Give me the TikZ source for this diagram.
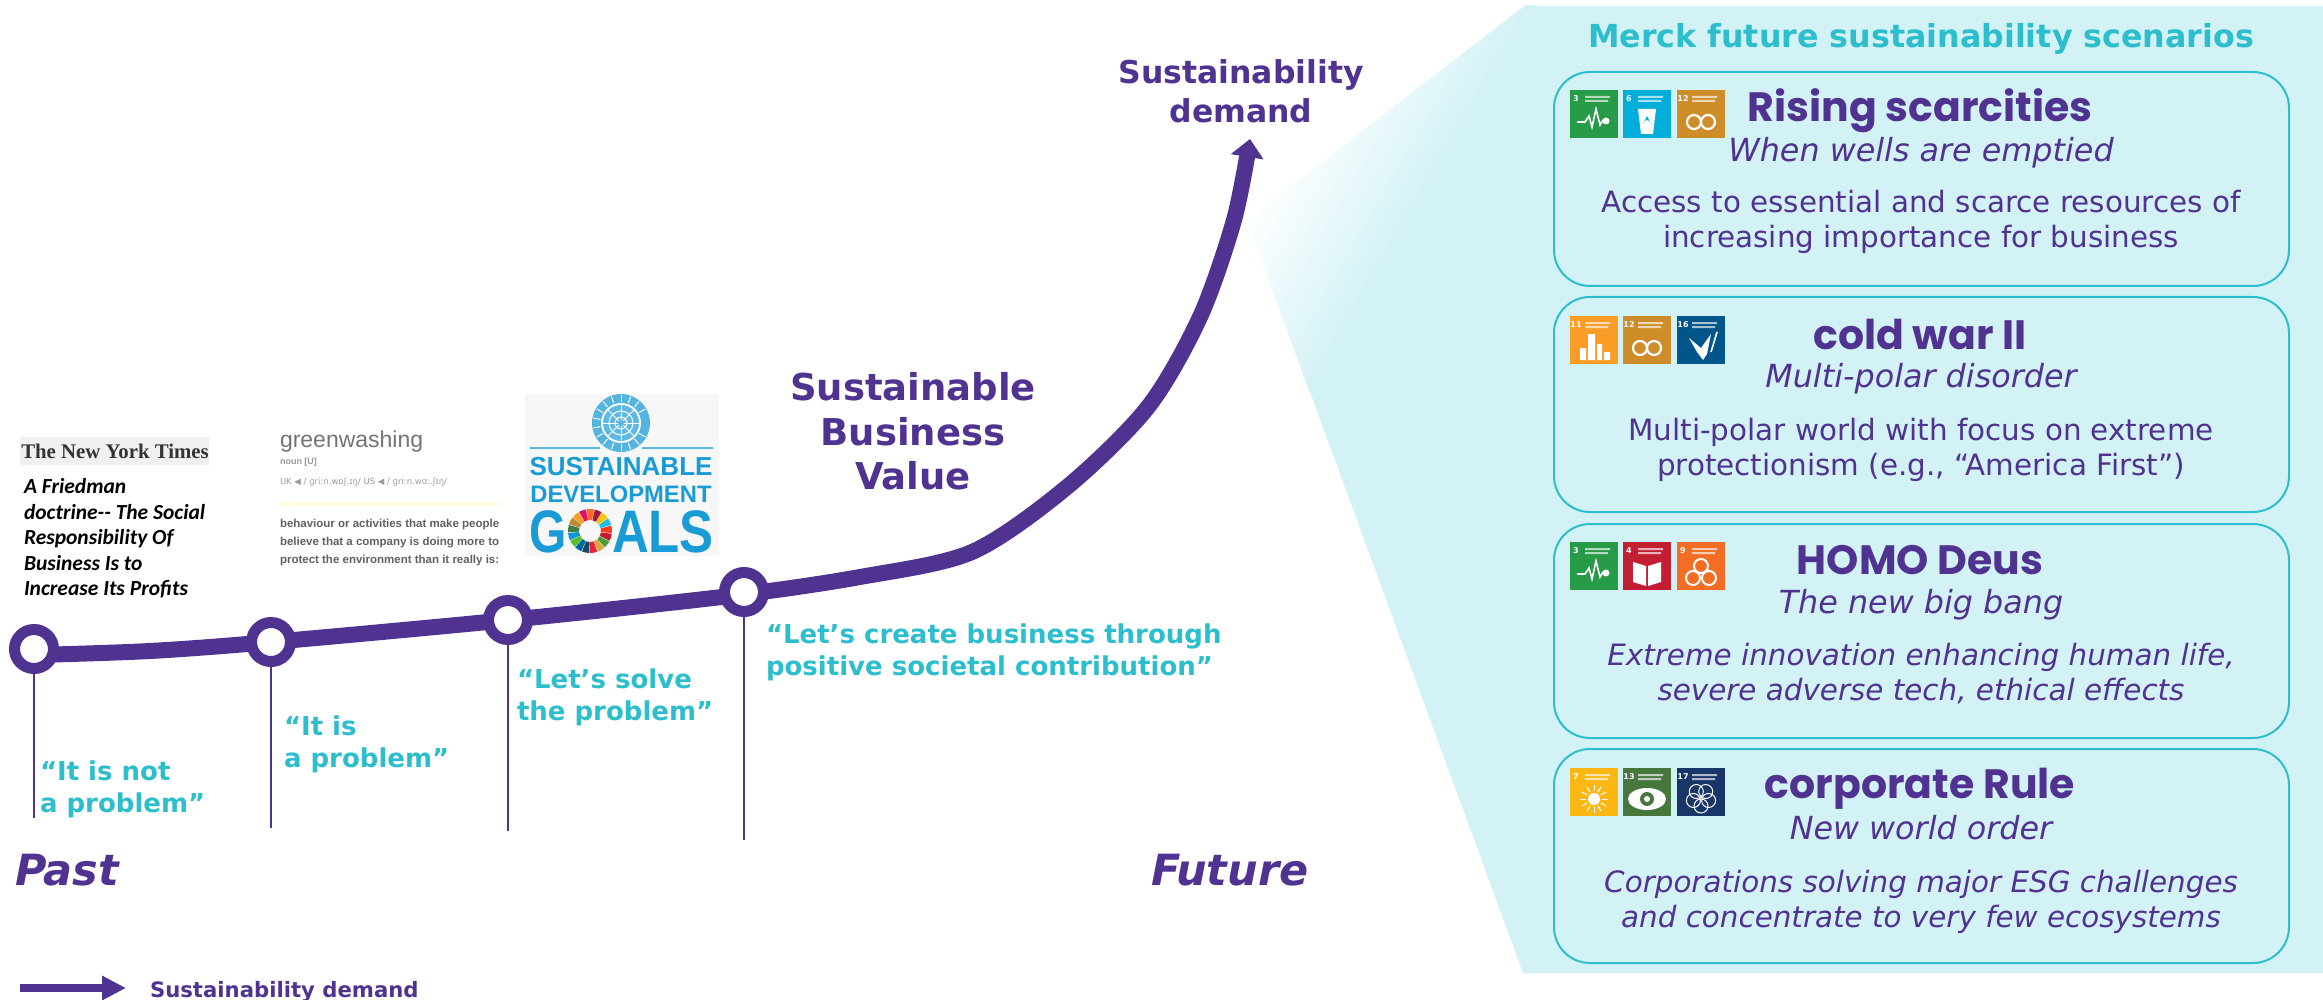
\documentclass[tikz,border=0pt]{standalone}
\usepackage{fontspec}
\setmainfont{DejaVu Sans}
\newfontfamily\headfont{Poppins}
\newfontfamily\carfont{Carlito}
\newfontfamily\arialfont{Liberation Sans}
\newfontfamily\timesfont{Liberation Serif}
\usetikzlibrary{arrows.meta,backgrounds}
\definecolor{merckpurple}{HTML}{503291}
\definecolor{mercktealt}{HTML}{2DBECD}
\definecolor{panelc}{HTML}{D3F2F6}
\definecolor{sdgblue}{HTML}{199BD6}
\definecolor{gA}{HTML}{279B48}
\definecolor{gB}{HTML}{00AED9}
\definecolor{gC}{HTML}{CF8D2A}
\definecolor{gD}{HTML}{F99D26}
\definecolor{gE}{HTML}{00558A}
\definecolor{gF}{HTML}{C31F33}
\definecolor{gG}{HTML}{F36E24}
\definecolor{gH}{HTML}{FDB714}
\definecolor{gI}{HTML}{48773E}
\definecolor{gJ}{HTML}{183668}
\newcommand{\fs}[1]{\fontsize{#1}{#1}\selectfont}
\tikzset{
  txt/.style={inner sep=0pt,outer sep=0pt,anchor=base,text=merckpurple},
  txtw/.style={txt,anchor=base west},
  scen/.style={draw=mercktealt,line width=2pt,rounded corners=36pt},
  ring/.style={circle,draw=merckpurple,fill=white,line width=11pt,minimum size=39pt,inner sep=0pt,outer sep=0pt},
  drop/.style={draw=merckpurple,line width=1.8pt},
  quotetxt/.style={txtw,text=mercktealt,font=\fs{26}\bfseries},
  headtxt/.style={txt,font=\headfont\fs{41}\bfseries},
  subtxt/.style={txt,font=\fs{31.8}\itshape},
  desctxt/.style={txt,font=\fs{29.4}},
  descitxt/.style={txt,font=\fs{29.4}\itshape},
  sdgnum/.style={inner sep=0pt,text=white,font=\fs{8}\bfseries},
  pictw/.style={white,line width=1.6pt},
}
% x, y, colour, node name, number, pictogram
\newcommand{\sdgicon}[6]{%
  \begin{scope}[shift={(#1,#2)}]
    \fill[#3] (0,0) rectangle (48,48);
    \node[sdgnum] (#4) at (6,9) {#5};
    \fill[white,opacity=.65] (15,6) rectangle (40,8) (15,10) rectangle (38,12);
    #6
  \end{scope}}
\begin{document}
\begin{tikzpicture}[x=1pt,y=-1pt]
\useasboundingbox (0,0) rectangle (2323,1000);

% ---- nodes on the curve
\node[ring] (n1) at (34,649) {};
\node[ring] (n2) at (271,642) {};
\node[ring] (n3) at (508,620) {};
\node[ring] (n4) at (744,592) {};
\coordinate (a0) at (36,655);
\coordinate (a1) at (150,651);
\coordinate (a2) at (730,596);
\coordinate (c0) at (860,577);
\coordinate (c1) at (972,552);
\coordinate (c2) at (1067,487);
\coordinate (c3) at (1148,407);
\coordinate (c4) at (1200,317);
\coordinate (c5) at (1234,220);
\coordinate (tip) at (1250,139);
\coordinate (e1) at (34,818);
\coordinate (e2) at (271,828);
\coordinate (e3) at (508,831);
\coordinate (e4) at (744,840);
\coordinate (apex) at (1247,220);

\begin{scope}[on background layer]
  % teal panel with fading apex
  \fill[panelc] (apex) -- (1525,6) -- (2323,6) -- (2323,973) -- (1523,973) -- cycle;
  \begin{scope}
    \clip (apex) -- (1525,6) -- (2323,6) -- (2323,973) -- (1523,973) -- cycle;
    \begin{scope}[shift={(1247,220)},rotate=-30]
      \foreach \s in {0,4,...,136} {
        \pgfmathsetmacro{\mix}{\s/1.4}
        \fill[panelc!\mix!white] (\s,-600) rectangle (142,600);
      }
    \end{scope}
  \end{scope}
  % curve
  \draw[merckpurple,line width=16pt,-{Triangle[length=18pt,width=32pt]}]
    plot[smooth,tension=.5] coordinates {(a0) (a1) (n2) (n3) (a2) (c0) (c1) (c2) (c3) (c4) (c5) (tip)};
  \foreach \i in {1,2,3,4} \draw[drop] (n\i) -- (e\i);
\end{scope}

% ---- curve labels
\node[txt,font=\fs{31.5}\bfseries] (sd1) at (1241,84) {Sustainability};
\node[txt,font=\fs{31.5}\bfseries] (sd2) at (1241,123) {demand};
\node[txt,font=\fs{37}\bfseries] (sb1) at (913,400) {Sustainable};
\node[txt,font=\fs{37}\bfseries] (sb2) at (913,445) {Business};
\node[txt,font=\fs{37}\bfseries] (sb3) at (913,489) {Value};

\node[quotetxt] (q1a) at (40,780) {“It is not};
\node[quotetxt] (q1b) at (40,812) {a problem”};
\node[quotetxt] (q2a) at (284,735) {“It is};
\node[quotetxt] (q2b) at (284,767) {a problem”};
\node[quotetxt] (q3a) at (517,688) {“Let’s solve};
\node[quotetxt] (q3b) at (517,720) {the problem”};
\node[quotetxt] (q4a) at (766,643) {“Let’s create business through};
\node[quotetxt] (q4b) at (766,675) {positive societal contribution”};

\node[txtw,font=\fs{43}\bfseries\itshape] (past) at (15,885) {Past};
\node[txtw,font=\fs{43}\bfseries\itshape] (future) at (1151,885) {Future};

% ---- legend
\coordinate (la) at (20,988);
\coordinate (lb) at (126,988);
\draw[merckpurple,line width=8pt,-{Triangle[length=24pt,width=23pt]}] (la) -- (lb);
\node[txtw,font=\fs{21.2}\bfseries] (legend) at (150,997) {Sustainability demand};

% ---- New York Times
\fill[black!6] (20,437) rectangle (209,465);
\node[txt,text=black!80,font=\timesfont\fs{20.8}\bfseries] (nyt) at (115,458) {The New York Times};
\begin{scope}[every node/.style={txtw,text=black,font=\carfont\fs{21.5}\bfseries\itshape}]
  \node (f1) at (24,493) {A Friedman};
  \node (f2) at (24,519) {doctrine-- The Social};
  \node (f3) at (24,544) {Responsibility Of};
  \node (f4) at (24,570) {Business Is to};
  \node (f5) at (24,595) {Increase Its Profits};
\end{scope}

% ---- greenwashing
\node[txtw,text=black!55,font=\arialfont\fs{23}] (gw) at (280,447) {greenwashing};
\node[txtw,text=black!40,font=\arialfont\fs{9}\bfseries] (gw1) at (280,464) {noun [U]};
\node[txtw,text=black!40,font=\fs{8.5}] (gw2) at (280,484) {UK ◀ / ɡriːn.wɒʃ.ɪŋ/ US ◀ / ɡriːn.wɑː.ʃɪŋ/};
\fill[yellow!12] (280,502) rectangle (500,506);
\begin{scope}[every node/.style={txtw,text=black!62,font=\arialfont\fs{11.5}\bfseries}]
  \node (gw3) at (280,527) {behaviour or activities that make people};
  \node (gw4) at (280,545) {believe that a company is doing more to};
  \node (gw5) at (280,563) {protect the environment than it really is:};
\end{scope}

% ---- SDG logo
\fill[black!3] (525,394) rectangle (719,556);
\begin{scope}[shift={(621,423)}]
  \fill[sdgblue!75] (0,0) circle (29);
  \fill[white] (0,0) circle (20);
  \fill[sdgblue!70] (0,0) circle (18);
  \foreach \r in {6,12} \draw[white,line width=1pt] (0,0) circle (\r);
  \foreach \a in {0,45,...,315} \draw[white,line width=.8pt] (\a:3) -- (\a:18);
  \foreach \a in {-60,-40,...,240} \draw[white,line width=1pt] (\a+90:21) -- (\a+90:28);
\end{scope}
\fill[sdgblue!70] (530,447) rectangle (600,449) (642,447) rectangle (713,449);
\node[txt,text=sdgblue,font=\arialfont\fs{26}\bfseries] (s1) at (621,475) {SUSTAINABLE};
\node[txt,text=sdgblue,font=\arialfont\fs{23.8}\bfseries] (s2) at (621,502) {DEVELOPMENT};
\node[txtw,text=sdgblue,font=\arialfont\fs{60}\bfseries] (s3) at (529,552) {\scalebox{.8}[1]{G}};
\node[txtw,text=sdgblue,font=\arialfont\fs{60}\bfseries] (s4) at (612,552) {\scalebox{.85}[1]{ALS}};
\begin{scope}[shift={(590,531)}]
  \foreach \c [count=\k from 0] in {E5243B,DDA63A,4C9F38,C5192D,FF3A21,26BDE2,FCC30B,A21942,FD6925,DD1367,FD9D24,BF8B2E,3F7E44,0A97D9,56C02B,00689D,19486A}{
    \definecolor{wh}{HTML}{\c}
    \pgfmathsetmacro{\aa}{90-\k*360/17}
    \pgfmathsetmacro{\ab}{90-(\k+1)*360/17+2}
    \fill[wh] (\aa:22) arc[start angle=\aa,end angle=\ab,radius=22] -- (\ab:11) arc[start angle=\ab,end angle=\aa,radius=11] -- cycle;
  }
\end{scope}

% ---- scenarios panel
\node[txt,text=mercktealt,font=\fs{31.7}\bfseries] (ptitle) at (1921,48) {Merck future sustainability scenarios};
\draw[scen] (1554,72) rectangle (2289,286);
\draw[scen] (1554,297) rectangle (2289,512);
\draw[scen] (1554,524) rectangle (2289,738);
\draw[scen] (1554,749) rectangle (2289,963);

\node[headtxt] (h1) at (1920,122) {Rising scarcities};
\node[subtxt] (i1) at (1921,162) {When wells are emptied};
\node[desctxt] (d1a) at (1921,213) {Access to essential and scarce resources of};
\node[desctxt] (d1b) at (1921,248) {increasing importance for business};

\node[headtxt] (h2) at (1920,349) {cold war II};
\node[subtxt] (i2) at (1921,387) {Multi-polar disorder};
\node[desctxt] (d2a) at (1921,440) {Multi-polar world with focus on extreme};
\node[desctxt] (d2b) at (1921,475) {protectionism (e.g., “America First”)};

\node[headtxt] (h3) at (1920,574) {HOMO Deus};
\node[subtxt] (i3) at (1921,613) {The new big bang};
\node[descitxt] (d3a) at (1921,665) {Extreme innovation enhancing human life,};
\node[descitxt] (d3b) at (1921,700) {severe adverse tech, ethical effects};

\node[headtxt] (h4) at (1920,798) {corporate Rule};
\node[subtxt] (i4) at (1921,839) {New world order};
\node[descitxt] (d4a) at (1921,892) {Corporations solving major ESG challenges};
\node[descitxt] (d4b) at (1921,927) {and concentrate to very few ecosystems};

% ---- SDG icons
\newcommand{\pheart}{\draw[pictw] (7,32) -- (15,32) -- (19,26) -- (22,37) -- (26,19) -- (30,35) -- (33,30); \fill[white] (36,31) circle (3.5);}
\newcommand{\pinf}{\draw[white,line width=2.2pt] (17,32) circle (7) (31,32) circle (7);}
\newcommand{\pwater}[1]{\fill[white] (15,19) -- (33,19) -- (30,44) -- (18,44) -- cycle; \fill[#1] (24,26) -- (28,34) arc[start angle=0,end angle=-180,radius=4] -- cycle;}
\sdgicon{1570}{90}{gA}{g1}{3}{\pheart}
\sdgicon{1623}{90}{gB}{g2}{6}{\pwater{gB}}
\sdgicon{1677}{90}{gC}{g3}{12}{\pinf}
\sdgicon{1570}{316}{gD}{g4}{11}{\fill[white] (10,44) rectangle (16,32) (18,44) rectangle (25,18) (27,44) rectangle (32,28) (34,44) rectangle (40,36);}
\sdgicon{1623}{316}{gC}{g5}{12}{\pinf}
\sdgicon{1677}{316}{gE}{g6}{16}{\fill[white] (12,22) -- (24,32) -- (34,18) -- (30,38) -- (26,44) -- (20,36) -- cycle; \draw[pictw] (34,36) -- (40,16);}
\sdgicon{1570}{542}{gA}{g7}{3}{\pheart}
\sdgicon{1623}{542}{gF}{g8}{4}{\fill[white] (10,20) -- (23,24) -- (23,44) -- (10,40) -- cycle (25,24) -- (38,20) -- (38,40) -- (25,44) -- cycle;}
\sdgicon{1677}{542}{gG}{g9}{9}{\draw[white,line width=2pt] (24,24) circle (7) (16,36) circle (7) (32,36) circle (7);}
\sdgicon{1570}{768}{gH}{g10}{7}{\fill[white] (24,31) circle (6); \foreach \a in {0,30,...,330} \draw[white,line width=1pt] (24,31) ++(\a:8) -- ++(\a:6);}
\sdgicon{1623}{768}{gI}{g11}{13}{\fill[white] (24,31) ellipse (19 and 11); \fill[gI] (24,31) circle (7); \fill[white] (24,31) circle (3);}
\sdgicon{1677}{768}{gJ}{g12}{17}{\foreach \a in {90,162,234,306,18} \draw[white,line width=1pt] (24,30) ++(\a:8) circle (7);}
\end{tikzpicture}
\end{document}
